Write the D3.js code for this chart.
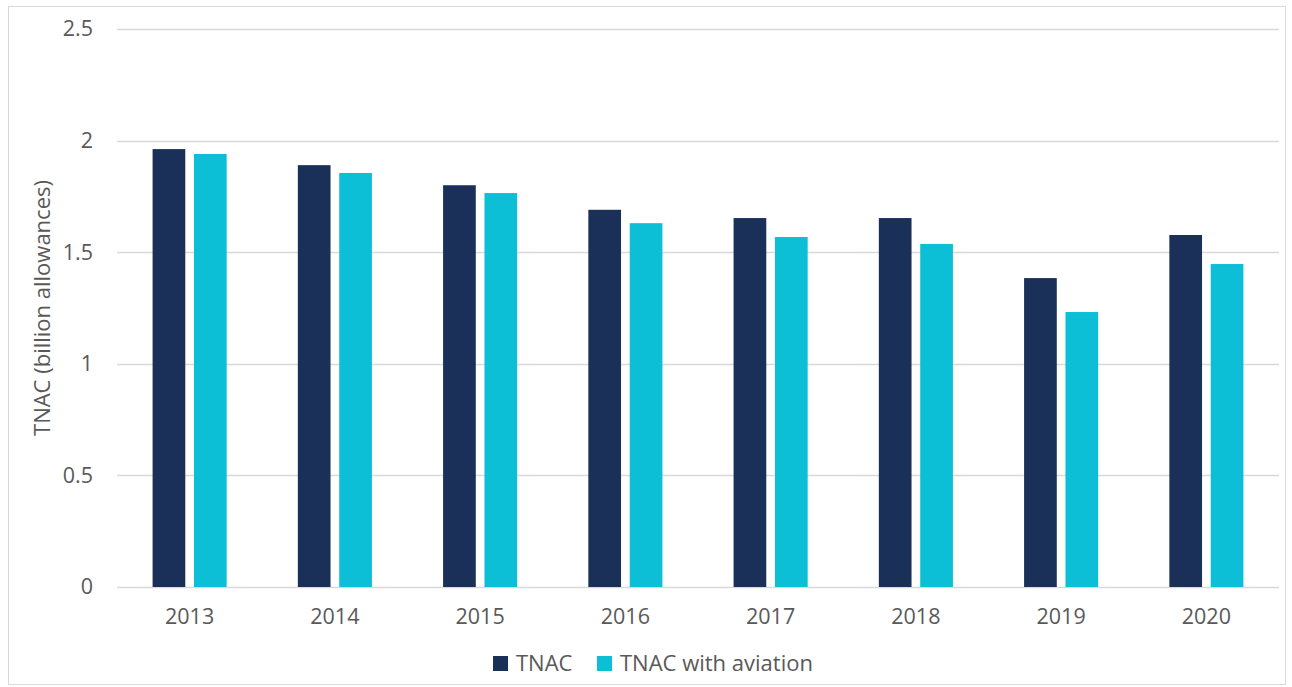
<!DOCTYPE html>
<html>
<head>
<meta charset="utf-8">
<script src="https://cdn.jsdelivr.net/npm/d3@7"></script>
<style>
  body { margin: 0; background: #fff; }
  text { font-family: "Open Sans", sans-serif; fill: #595959; }
</style>
</head>
<body>
<svg id="chart" width="1292" height="687"></svg>
<script>
var years = ['2013', '2014', '2015', '2016', '2017', '2018', '2019', '2020'];
var tnac = [1.962, 1.89, 1.80, 1.69, 1.653, 1.653, 1.384, 1.577];
var tnacAviation = [1.94, 1.855, 1.765, 1.63, 1.568, 1.537, 1.232, 1.447];
var seriesNames = ['TNAC', 'TNAC with aviation'];
var colors = ['#1a3059', '#0dbfd6'];
var yTicks = [0, 0.5, 1, 1.5, 2, 2.5];

var marginLeft = 117;
var marginTop = 29;
var width = 1162;
var height = 558;

var svg = d3.select('#chart');

// outer border
svg.append('rect')
  .attr('x', 8.5).attr('y', 6.5)
  .attr('width', 1277).attr('height', 678)
  .attr('fill', 'none')
  .attr('stroke', '#d9d9d9');

var graph = svg.append('g')
  .attr('transform', 'translate(' + marginLeft + ',' + marginTop + ')');

var xScale = d3.scaleBand()
  .domain(years)
  .range([0, width])
  .paddingInner(0.49)
  .paddingOuter(0.245);

var xSub = d3.scaleBand()
  .domain([0, 1])
  .range([0, xScale.bandwidth()])
  .paddingInner(0.21);

var yScale = d3.scaleLinear()
  .domain([0, 2.5])
  .range([height, 0]);

// gridlines
graph.selectAll('.grid')
  .data(yTicks)
  .enter().append('line')
  .attr('x1', 0).attr('x2', width)
  .attr('y1', function(d){ return Math.round(yScale(d)) + 0.5; })
  .attr('y2', function(d){ return Math.round(yScale(d)) + 0.5; })
  .attr('stroke', '#d9d9d9')
  .attr('stroke-width', 1.5);

// y axis labels
var yAxisGen = d3.axisLeft(yScale).tickValues(yTicks).tickSize(0).tickPadding(24)
  .tickFormat(function(d){ return d3.format('')(d); });
var yAxis = graph.append('g').call(yAxisGen);
yAxis.select('.domain').remove();
yAxis.selectAll('text')
  .attr('font-size', 21.5)
  .attr('font-family', '"Open Sans", sans-serif')
  .attr('fill', '#595959');

// x axis labels
var xAxisGen = d3.axisBottom(xScale).tickSize(0).tickPadding(22);
var xAxis = graph.append('g')
  .attr('transform', 'translate(0,' + height + ')')
  .call(xAxisGen);
xAxis.select('.domain').remove();
xAxis.selectAll('text')
  .attr('font-size', 21.5)
  .attr('font-family', '"Open Sans", sans-serif')
  .attr('fill', '#595959');

// bars
var series = [tnac, tnacAviation];
series.forEach(function(values, s){
  graph.selectAll('.bar' + s)
    .data(values)
    .enter().append('rect')
    .attr('x', function(d, i){ return xScale(years[i]) + xSub(s); })
    .attr('y', function(d){ return yScale(d); })
    .attr('width', xSub.bandwidth())
    .attr('height', function(d){ return height - yScale(d); })
    .attr('fill', colors[s]);
});

// y axis title
svg.append('text')
  .attr('transform', 'translate(50,' + (marginTop + height / 2) + ') rotate(-90)')
  .attr('text-anchor', 'middle')
  .attr('font-size', 22)
  .text('TNAC (billion allowances)');

// legend
var legend = svg.append('g').attr('transform', 'translate(493,663)');
var legendX = [0, 104];
seriesNames.forEach(function(name, i){
  var g = legend.append('g').attr('transform', 'translate(' + legendX[i] + ',0)');
  g.append('rect')
    .attr('x', 0).attr('y', -7)
    .attr('width', 15).attr('height', 15)
    .attr('fill', colors[i]);
  g.append('text')
    .attr('x', 23).attr('y', 0)
    .attr('dy', '0.35em')
    .attr('font-size', 22)
    .text(name);
});
</script>
</body>
</html>
